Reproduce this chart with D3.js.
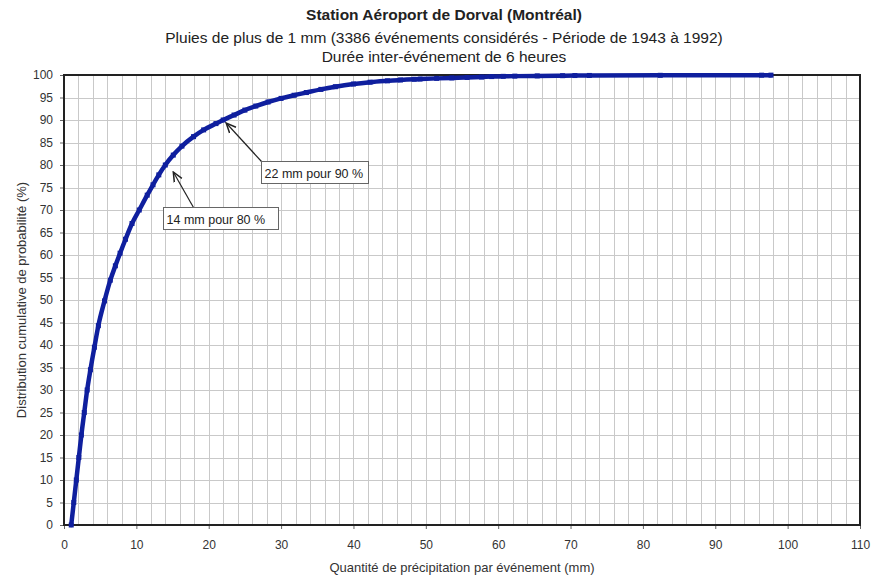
<!DOCTYPE html>
<html>
<head>
<meta charset="utf-8">
<script src="https://cdn.jsdelivr.net/npm/d3@7"></script>
<style>
  html, body { margin: 0; padding: 0; background: #fff; }
  svg { display: block; font-family: "Liberation Sans", Arial, sans-serif; }
</style>
</head>
<body>
<svg id="chart" width="873" height="580"></svg>
<script>
// Cumulative distribution of rainfall depth per event (Dorval, 1943-1992)
const rainMm = [
  1.0, 1.35, 1.7, 2.05, 2.4, 2.8, 3.2, 3.65, 4.2, 4.75, 5.6, 6.4, 7.1, 7.75, 8.5,
  9.4, 10.4, 11.5, 12.3, 13.1, 14.0, 15.1, 16.3, 17.9, 19.3, 21.0, 22.0, 23.5,
  25.0, 26.5, 28.2, 30.0, 31.8, 33.5, 35.5, 37.5, 40.0, 42.3, 44.7, 46.5, 48.4,
  49.2, 51.5, 53.6, 55.7, 57.7, 59.1, 60.7, 62.3, 65.4, 68.9, 70.6, 72.6, 82.4,
  96.4, 97.7
];
const cumPct = [
  0, 5, 10, 15, 20, 25, 30, 34.5, 39.5, 44.3, 49.8, 54.4, 57.6, 60.4, 63.5,
  67, 70, 73.3, 75.6, 77.8, 80, 82.2, 84.2, 86.3, 87.8, 89.2, 90, 91.1,
  92.2, 93.1, 94, 94.8, 95.5, 96.1, 96.8, 97.4, 98, 98.4, 98.7, 98.9, 99.05,
  99.1, 99.25, 99.35, 99.45, 99.55, 99.65, 99.7, 99.75, 99.8, 99.85, 99.88, 99.9, 99.93,
  99.96, 99.97
];

const xTickValues = [0, 10, 20, 30, 40, 50, 60, 70, 80, 90, 100, 110];
const yTickValues = [0, 5, 10, 15, 20, 25, 30, 35, 40, 45, 50, 55, 60, 65, 70, 75, 80, 85, 90, 95, 100];

const titleLines = [
  "Station Aéroport de Dorval (Montréal)",
  "Pluies de plus de 1 mm (3386 événements considérés - Période de 1943 à 1992)",
  "Durée inter-événement de 6 heures"
];
const xAxisTitle = "Quantité de précipitation par événement (mm)";
const yAxisTitle = "Distribution cumulative de probabilité (%)";

const noteLabels = ["14 mm pour 80 %", "22 mm pour 90 %"];
const noteMm = [14, 22];
const notePct = [80, 90];

// Layout
const plot = { left: 64, right: 860, top: 75, bottom: 525 };
const svg = d3.select("#chart");

const x = d3.scaleLinear().domain([0, 110]).range([plot.left, plot.right]);
const y = d3.scaleLinear().domain([0, 100]).range([plot.bottom, plot.top]);

// Titles
const titleY = [20, 43, 62];
svg.append("g").selectAll("text")
  .data(titleLines)
  .join("text")
  .attr("x", 444)
  .attr("y", (d, i) => titleY[i])
  .attr("text-anchor", "middle")
  .attr("font-size", 15.5)
  .attr("font-weight", (d, i) => i === 0 ? "bold" : "normal")
  .attr("fill", "#222")
  .text(d => d);

// Grid: every 2 mm and every 5 %
const grid = svg.append("g").attr("stroke", "#c9c9c9").attr("stroke-width", 1);
grid.selectAll("line.v")
  .data(d3.range(2, 110, 2))
  .join("line")
  .attr("class", "v")
  .attr("x1", d => Math.round(x(d)) + 0.5).attr("x2", d => Math.round(x(d)) + 0.5)
  .attr("y1", plot.top).attr("y2", plot.bottom);
grid.selectAll("line.h")
  .data(yTickValues.slice(1, -1))
  .join("line")
  .attr("class", "h")
  .attr("y1", d => Math.round(y(d)) + 0.5).attr("y2", d => Math.round(y(d)) + 0.5)
  .attr("x1", plot.left).attr("x2", plot.right);

// Axes
const xAxis = d3.axisBottom(x).tickValues(xTickValues).tickSize(4).tickPadding(11);
const yAxis = d3.axisLeft(y).tickValues(yTickValues).tickSize(4).tickPadding(7);

const gx = svg.append("g").attr("transform", `translate(0,${plot.bottom})`).call(xAxis);
const gy = svg.append("g").attr("transform", `translate(${plot.left},0)`).call(yAxis);
[gx, gy].forEach(g => {
  g.select(".domain").remove();
  g.selectAll(".tick line").attr("stroke", "#666");
  g.selectAll(".tick text")
    .attr("font-size", 12)
    .attr("font-family", "'Liberation Sans', Arial, sans-serif")
    .attr("fill", "#333");
});

// Plot frame
svg.append("rect")
  .attr("x", plot.left).attr("y", plot.top)
  .attr("width", plot.right - plot.left).attr("height", plot.bottom - plot.top)
  .attr("fill", "none").attr("stroke", "#222").attr("stroke-width", 2);

// Axis titles
svg.append("text")
  .attr("x", (plot.left + plot.right) / 2).attr("y", 572)
  .attr("text-anchor", "middle").attr("font-size", 13).attr("fill", "#333")
  .text(xAxisTitle);
svg.append("text")
  .attr("transform", `translate(26,${(plot.top + plot.bottom) / 2}) rotate(-90)`)
  .attr("text-anchor", "middle").attr("font-size", 13).attr("fill", "#333")
  .text(yAxisTitle);

// Curve
const pts = rainMm.map((d, i) => [d, cumPct[i]]);
const line = d3.line().x(d => x(d[0])).y(d => y(d[1])).curve(d3.curveMonotoneX);
const blue = "#0f1f9e";
svg.append("path")
  .datum(pts)
  .attr("d", line)
  .attr("fill", "none")
  .attr("stroke", blue)
  .attr("stroke-width", 4.5)
  .attr("stroke-linejoin", "round")
  .attr("stroke-linecap", "round");
svg.append("g").selectAll("rect")
  .data(pts)
  .join("rect")
  .attr("x", d => x(d[0]) - 2.5).attr("y", d => y(d[1]) - 2.5)
  .attr("width", 5).attr("height", 5)
  .attr("fill", blue);

// Annotations
const defs = svg.append("defs");
defs.append("marker")
  .attr("id", "arrow")
  .attr("viewBox", "0 0 10 10")
  .attr("refX", 9).attr("refY", 5)
  .attr("markerWidth", 9).attr("markerHeight", 9)
  .attr("orient", "auto")
  .append("path")
  .attr("d", "M0,1 L9,5 L0,9")
  .attr("fill", "none").attr("stroke", "#222").attr("stroke-width", 1.4);

// box offsets / sizes and arrow start relative to the annotated point
const noteLayout = [
  { tipDx: 8, tipDy: 7, boxDx: -2, boxDy: 42, boxW: 115, startDx: 30 },
  { tipDx: 3, tipDy: 3, boxDx: 38, boxDy: 41, boxW: 107, startDx: 0 }
];
const boxH = 22;
noteLabels.forEach((label, i) => {
  const px = x(noteMm[i]), py = y(notePct[i]);
  const L = noteLayout[i];
  const bx = Math.round(px + L.boxDx) + 0.5, by = Math.round(py + L.boxDy) + 0.5;
  svg.append("line")
    .attr("x1", bx + L.startDx).attr("y1", by)
    .attr("x2", px + L.tipDx).attr("y2", py + L.tipDy)
    .attr("stroke", "#222").attr("stroke-width", 1.2)
    .attr("marker-end", "url(#arrow)");
  svg.append("rect")
    .attr("x", bx).attr("y", by)
    .attr("width", L.boxW).attr("height", boxH)
    .attr("fill", "#fff").attr("stroke", "#666").attr("stroke-width", 1);
  svg.append("text")
    .attr("x", bx + 3).attr("y", by + 16)
    .attr("font-size", 12.5).attr("fill", "#222")
    .text(label);
});
</script>
</body>
</html>
